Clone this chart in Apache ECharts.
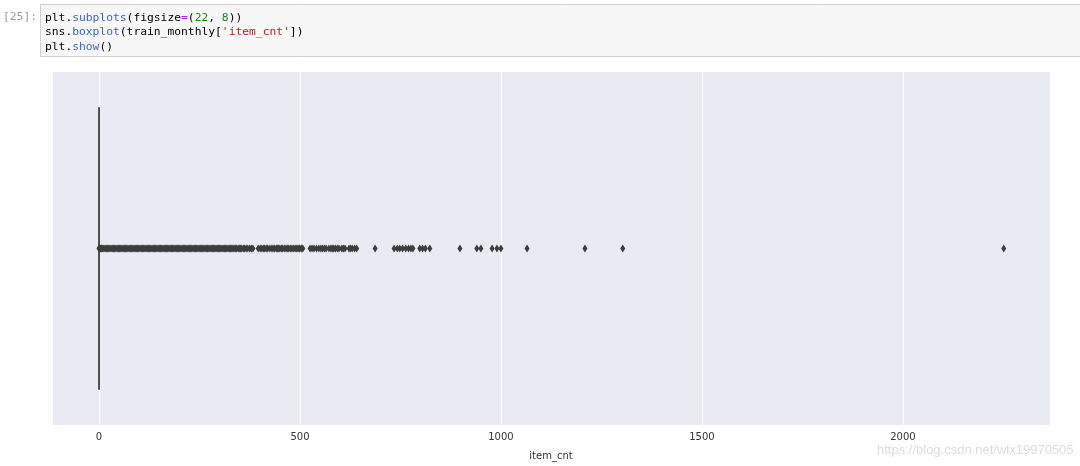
<!DOCTYPE html>
<html>
<head>
<meta charset="utf-8">
<script src="https://cdn.jsdelivr.net/npm/echarts@6/dist/echarts.min.js"></script>
<style>
html,body{margin:0;padding:0;background:#fff;}
#chart{width:1080px;height:466px;}
</style>
</head>
<body>
<div id="chart"></div>
<script>
// ---- data ----
var categories = ['item_cnt'];
// box: [min, Q1, median, Q3, max] (degenerate box at 0)
var boxValues = [0, 0, 0, 0, 0];
// outliers (fliers)
var outlierValues = [
  0, 1, 2, 3, 5, 7, 9, 12, 15, 18, 21, 24, 27, 30, 33, 36, 39, 42, 45, 48, 51, 54, 57, 60,
  63, 66, 69, 72, 75, 78, 81, 84, 87, 90, 93, 96, 99, 102, 105, 108, 111, 114, 117, 120,
  123, 126, 129, 132, 135, 138, 141, 144, 147, 150, 153, 156, 159, 162, 165, 168, 171, 174,
  177, 180, 183, 186, 189, 192, 195, 198, 201, 204, 207, 210, 213, 216, 219, 222, 225, 228,
  231, 234, 237, 240, 243,
  246, 249, 252, 255, 258, 261, 264, 267, 270, 273, 276, 279, 282, 285, 288, 291, 294, 297,
  300, 303, 306, 309, 312, 315, 318, 321, 324, 327, 330, 333, 336, 339, 342, 346, 349, 352,
  355, 359, 362, 366, 370, 375, 379, 383,
  396, 401, 405, 409, 412, 416, 420, 425, 430, 433, 437, 441, 444, 447, 450, 454, 457, 461,
  465, 469, 472, 476, 480, 484, 488, 492, 495, 498, 500, 504, 507,
  525, 530, 535, 541, 547, 552, 556, 561, 565, 572, 577, 580, 584, 588, 593, 597, 604, 608, 612,
  622, 626, 630, 636, 641,
  687,
  734, 742, 748, 755, 763, 770, 776, 781, 798, 805, 812, 823,
  898, 940, 950, 978, 990, 1000, 1065, 1209, 1303, 2251
];
var xTickValues = [0, 500, 1000, 1500, 2000];
var xAxisName = 'item_cnt';
var axisMin = -117;
var axisMax = 2366;

var codeLines = [
  "{v|plt.}{p|subplots}{v|(figsize}{o|=}{v|(}{n|22}{v|, }{n|8}{v|))}",
  "{v|sns.}{p|boxplot}{v|(train_monthly[}{s|'item_cnt'}{v|])}",
  "{v|plt.}{p|show}{v|()}"
];
var promptText = '[25]:';
var watermark = 'https://blog.csdn.net/wlx19970505';

// ---- chart ----
var chart = echarts.init(document.getElementById('chart'), null, {renderer: 'canvas'});
var mono = '"DejaVu Sans Mono", monospace';
function rs(c) { return {fill: c, fontFamily: mono, fontSize: 11.3, lineHeight: 14.3}; }
var codeRich = {
  v: rs('#000000'),
  p: rs('#3a66c0'),
  o: rs('#aa22ff'),
  n: rs('#118811'),
  s: rs('#ba2121')
};

var option = {
  animation: false,
  backgroundColor: '#ffffff',
  grid: {left: 52, right: 30, top: 72, bottom: 41, show: true, backgroundColor: '#eaeaf2', borderWidth: 0},
  xAxis: {
    type: 'value',
    min: axisMin,
    max: axisMax,
    name: xAxisName,
    nameLocation: 'middle',
    nameGap: 26,
    nameTextStyle: {color: '#333', fontSize: 10, fontFamily: '"DejaVu Sans", sans-serif'},
    axisLine: {show: false},
    axisTick: {show: false},
    axisLabel: {
      color: '#333', fontSize: 10, fontFamily: '"DejaVu Sans", sans-serif', margin: 7,
      showMinLabel: false, showMaxLabel: false,
      formatter: function (v) { return xTickValues.indexOf(v) >= 0 ? String(v) : ''; }
    },
    splitLine: {show: true, lineStyle: {color: '#ffffff', width: 1}}
  },
  yAxis: {
    type: 'category',
    data: categories,
    axisLine: {show: false},
    axisTick: {show: false},
    axisLabel: {show: false},
    splitLine: {show: false}
  },
  series: [
    {
      type: 'boxplot',
      data: [boxValues],
      boxWidth: ['80%', '80%'],
      itemStyle: {color: '#5975a4', borderColor: '#3f3f3f', borderWidth: 1.8},
      silent: true
    },
    {
      type: 'scatter',
      data: outlierValues.map(function (v) { return [v, 0]; }),
      symbol: 'diamond',
      symbolSize: [5, 8],
      itemStyle: {color: '#3d3d3d', opacity: 1},
      silent: true
    }
  ],
  graphic: [
    {type: 'rect', shape: {x: 40.5, y: 4.5, width: 1045, height: 52}, style: {fill: '#f7f7f7', stroke: '#cfcfcf', lineWidth: 1}},
    {type: 'text', x: 3, y: 12, style: {text: promptText, fill: '#999999', font: '11.3px "DejaVu Sans Mono", monospace'}},
    {type: 'text', x: 45, y: 11, style: {text: codeLines.join('\n'), rich: codeRich, fill: '#000', font: '11.3px "DejaVu Sans Mono", monospace', lineHeight: 14.3}},
    {type: 'text', x: 877, y: 444, style: {text: watermark, fill: '#dcdcdc', font: '13px "Liberation Sans", Arial, sans-serif'}}
  ]
};
chart.setOption(option);
</script>
</body>
</html>
